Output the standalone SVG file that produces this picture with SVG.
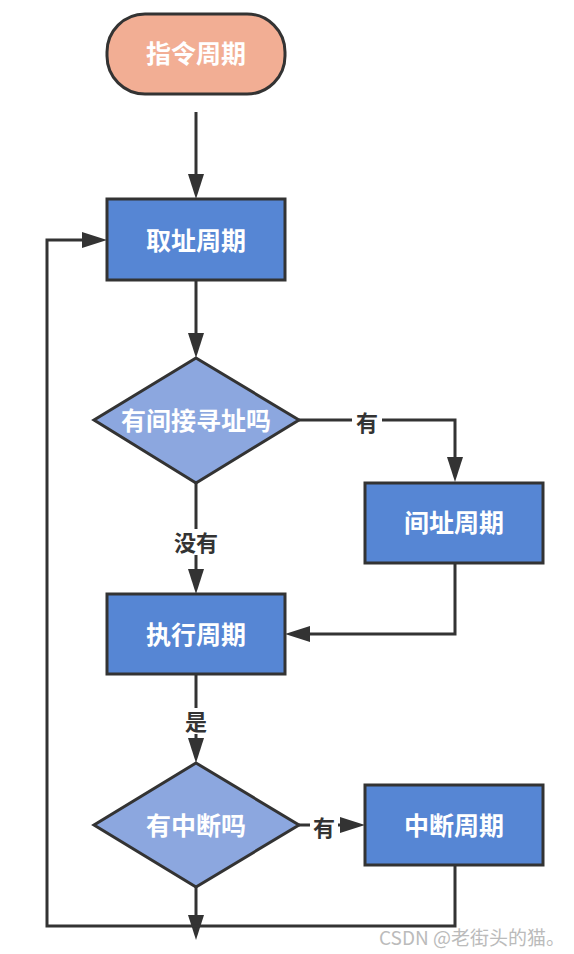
<svg xmlns="http://www.w3.org/2000/svg" width="574" height="954" viewBox="0 0 574 954">
<style>
.n{stroke:#333;stroke-width:3}
.rect{fill:#5686D4}
.dia{fill:#8CA7DF}
.t{font-family:"Noto Sans CJK SC","Noto Sans",sans-serif;font-size:25px;font-weight:bold;fill:#fff;text-anchor:middle;dominant-baseline:central}
.l{font-family:"Noto Sans CJK SC","Noto Sans",sans-serif;font-size:22px;font-weight:bold;fill:#333;text-anchor:middle;dominant-baseline:central}
.c{fill:none;stroke:#333;stroke-width:3}
.h{fill:#333}
.bg{fill:#fff}
</style>
<g id="connectors">
<path class="c" d="M196 112 V178"/><polygon class="h" points="188,174 204,174 196,199"/>
<path class="c" d="M196 280 V337"/><polygon class="h" points="188,333 204,333 196,358"/>
<path class="c" d="M299 420 H455 V461"/><polygon class="h" points="447,457 463,457 455,482"/>
<rect class="bg" x="352" y="408" width="30" height="26"/>
<text class="l" x="367" y="421">有</text>
<path class="c" d="M196 483 V573"/><polygon class="h" points="188,569 204,569 196,594"/>
<rect class="bg" x="170" y="529" width="52" height="26"/>
<text class="l" x="196" y="541">没有</text>
<path class="c" d="M455 563 V634 H306"/><polygon class="h" points="310,626 310,642 285,634"/>
<path class="c" d="M196 674 V742"/><polygon class="h" points="188,738 204,738 196,763"/>
<rect class="bg" x="183" y="708" width="28" height="26"/>
<text class="l" x="196" y="720">是</text>
<path class="c" d="M299 825 H344"/><polygon class="h" points="340,817 340,833 365,825"/>
<rect class="bg" x="310" y="812" width="28" height="26"/>
<text class="l" x="324" y="826">有</text>
<path class="c" d="M196 887 V919"/><polygon class="h" points="188,915 204,915 196,940"/>
<path class="c" d="M455 865 V926 H47 V240 H86"/><polygon class="h" points="82,232 82,248 107,240"/>
</g>
<g id="start"><rect class="n" x="107" y="14" width="178" height="80" rx="38" fill="#F2AE94"/><text class="t" x="196" y="52">指令周期</text></g>
<g id="fetch"><rect class="n rect" x="107" y="199" width="178" height="81"/><text class="t" x="196" y="239">取址周期</text></g>
<g id="q1"><polygon class="n dia" points="196,358 299,420 196,483 94,420"/><text class="t" x="196" y="419">有间接寻址吗</text></g>
<g id="indirect"><rect class="n rect" x="365" y="483" width="178" height="80"/><text class="t" x="454" y="521">间址周期</text></g>
<g id="exec"><rect class="n rect" x="107" y="594" width="178" height="80"/><text class="t" x="196" y="633">执行周期</text></g>
<g id="q2"><polygon class="n dia" points="196,763 299,825 196,887 94,825"/><text class="t" x="196" y="824">有中断吗</text></g>
<g id="interrupt"><rect class="n rect" x="365" y="785" width="178" height="80"/><text class="t" x="454" y="824">中断周期</text></g>
<text x="472" y="936" font-family="'Noto Sans CJK SC',sans-serif" font-size="19" fill="#bbb" text-anchor="middle" dominant-baseline="central">CSDN @老街头的猫。</text>
</svg>
